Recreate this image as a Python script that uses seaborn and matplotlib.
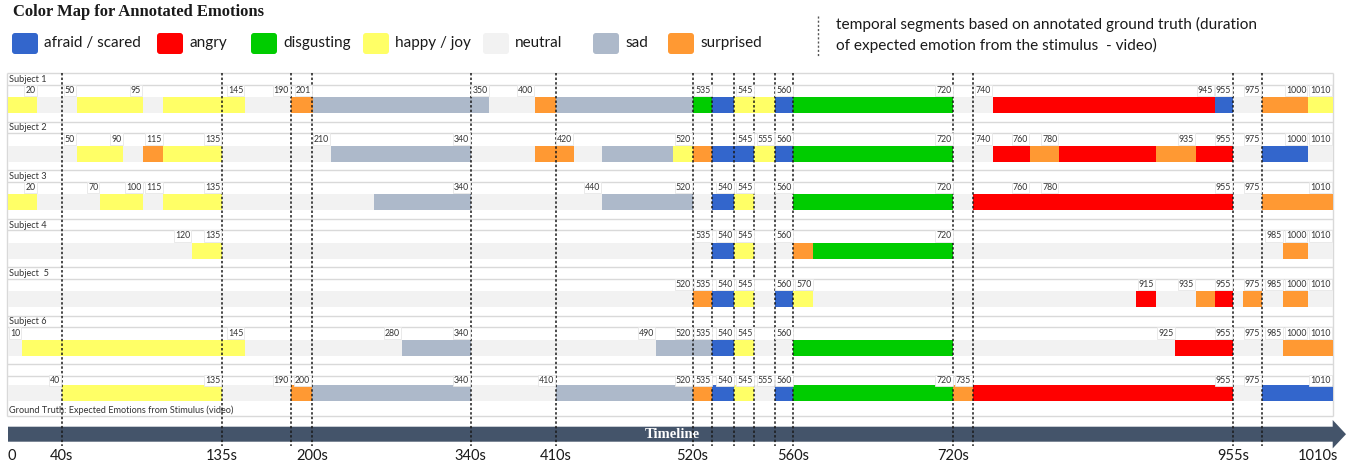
import matplotlib
matplotlib.use("Agg")
import matplotlib.pyplot as plt
from matplotlib.patches import FancyBboxPatch, Polygon
import numpy as np
import pandas as pd
import seaborn as sns

# %% data -------------------------------------------------------------

EMOTIONS = ["afraid", "angry", "disgust", "happy", "neutral", "sad", "surprised"]
EMOTION_LABELS = ["afraid / scared", "angry", "disgusting", "happy / joy", "neutral", "sad", "surprised"]
EMOTION_COLORS = ["#3366CC", "#FF0000", "#00CC00", "#FFFF66", "#F2F2F2", "#ADB9CA", "#FF9933"]

ROW_NAMES = ["Subject 1", "Subject 2", "Subject 3", "Subject 4", "Subject  5", "Subject 6",
             "Ground Truth: Expected Emotions from Stimulus (video)"]

# segment edges (s) and the emotion held between consecutive edges
S1_EDGES = [0, 20, 50, 95, 115, 145, 190, 201, 350, 400, 410, 520, 535, 540, 555, 560, 720, 740, 945, 955, 975, 1000, 1010]
S1_EMO = ["happy", "neutral", "happy", "neutral", "happy", "neutral", "surprised", "sad", "neutral", "surprised", "sad",
          "disgust", "afraid", "happy", "afraid", "disgust", "neutral", "angry", "afraid", "neutral", "surprised", "happy"]
S1_MARKS = [20, 50, 95, 145, 190, 201, 350, 400, 535, 545, 560, 720, 740, 945, 955, 975, 1000, 1010]

S2_EDGES = [0, 50, 90, 100, 115, 135, 210, 340, 400, 420, 440, 510, 520, 535, 545, 555, 560, 720, 740, 760, 780, 915, 935, 955, 975, 1000, 1010]
S2_EMO = ["neutral", "happy", "neutral", "surprised", "happy", "neutral", "sad", "neutral", "surprised", "neutral", "sad",
          "happy", "surprised", "afraid", "happy", "afraid", "disgust", "neutral", "angry", "surprised", "angry", "surprised",
          "angry", "neutral", "afraid", "neutral"]
S2_MARKS = [50, 90, 115, 135, 210, 340, 420, 520, 545, 555, 560, 720, 740, 760, 780, 935, 955, 975, 1000, 1010]

S3_EDGES = [0, 20, 70, 100, 115, 135, 250, 340, 440, 520, 535, 540, 545, 560, 720, 735, 955, 975, 1010]
S3_EMO = ["happy", "neutral", "happy", "neutral", "happy", "neutral", "sad", "neutral", "sad", "neutral", "afraid",
          "happy", "neutral", "disgust", "neutral", "angry", "neutral", "surprised"]
S3_MARKS = [20, 70, 100, 115, 135, 340, 440, 520, 540, 545, 560, 720, 760, 780, 955, 975, 1010]

S4_EDGES = [0, 120, 135, 535, 540, 545, 560, 570, 720, 985, 1000, 1010]
S4_EMO = ["neutral", "happy", "neutral", "afraid", "happy", "neutral", "surprised", "disgust", "neutral", "surprised", "neutral"]
S4_MARKS = [120, 135, 535, 540, 545, 560, 720, 985, 1000, 1010]

S5_EDGES = [0, 520, 535, 540, 545, 555, 560, 570, 905, 915, 935, 945, 955, 960, 975, 985, 1000, 1010]
S5_EMO = ["neutral", "surprised", "afraid", "happy", "neutral", "afraid", "happy", "neutral", "angry", "neutral",
          "surprised", "angry", "neutral", "surprised", "neutral", "surprised", "neutral"]
S5_MARKS = [520, 535, 540, 545, 560, 570, 915, 935, 955, 975, 985, 1000, 1010]

S6_EDGES = [0, 10, 145, 280, 340, 490, 535, 540, 545, 560, 720, 925, 955, 985, 1010]
S6_EMO = ["neutral", "happy", "neutral", "sad", "neutral", "sad", "afraid", "happy", "neutral", "disgust", "neutral",
          "angry", "neutral", "surprised"]
S6_MARKS = [10, 145, 280, 340, 490, 520, 535, 540, 545, 560, 925, 955, 975, 985, 1000, 1010]

GT_EDGES = [0, 40, 135, 190, 200, 340, 410, 520, 535, 540, 545, 555, 560, 720, 735, 955, 975, 1010]
GT_EMO = ["neutral", "happy", "neutral", "surprised", "sad", "neutral", "sad", "surprised", "afraid", "happy", "neutral",
          "afraid", "disgust", "surprised", "angry", "neutral", "afraid"]
GT_MARKS = [40, 135, 190, 200, 340, 410, 520, 535, 540, 545, 555, 560, 720, 735, 955, 975, 1010]

SEGMENT_TIMES = [40, 135, 190, 200, 340, 410, 520, 535, 540, 545, 555, 560, 720, 735, 955, 975]
TICK_TIMES = [0, 40, 135, 200, 340, 410, 520, 560, 720, 955, 1010]

# spreadsheet-like time axis: column edge times and their pixel position
COL_T = [0, 10, 20, 40, 50, 70, 90, 95, 100, 115, 120, 135, 145, 190, 200, 201, 210, 250, 280, 340, 350, 400, 410,
         420, 440, 490, 510, 520, 535, 540, 545, 555, 560, 570, 720, 735, 740, 760, 780, 905, 915, 925, 935, 945,
         955, 960, 975, 985, 1000, 1010]
COL_PX = [8, 21.7, 37.3, 61.7, 76.7, 100, 123.3, 142.8, 143.3, 163.3, 192, 222, 245, 290.7, 312, 312.6, 331, 374,
          401.7, 470.5, 489.3, 535, 556, 574, 602, 656, 673, 692.5, 712.3, 734.3, 754.3, 775, 793.3, 813.3, 953.3,
          972.7, 992.7, 1030, 1059, 1136, 1155.7, 1175.3, 1195.7, 1215, 1233, 1243.3, 1261.7, 1283.3, 1308, 1332.7]

# %% build the segment table

rows = [(S1_EDGES, S1_EMO), (S2_EDGES, S2_EMO), (S3_EDGES, S3_EMO), (S4_EDGES, S4_EMO),
        (S5_EDGES, S5_EMO), (S6_EDGES, S6_EMO), (GT_EDGES, GT_EMO)]
marks = [S1_MARKS, S2_MARKS, S3_MARKS, S4_MARKS, S5_MARKS, S6_MARKS, GT_MARKS]

records = []
for i, (edges, emos) in enumerate(rows):
    for a, b, e in zip(edges[:-1], edges[1:], emos):
        records.append({"row": i, "start": a, "end": b, "emotion": e})
seg = pd.DataFrame(records)
palette = dict(zip(EMOTIONS, EMOTION_COLORS))

# %% figure

sns.set_theme(style="white")
plt.rcParams["font.family"] = ["Lato", "DejaVu Sans"]

W, H = 1354, 466
fig = plt.figure(figsize=(W / 100, H / 100), dpi=100)

# layout axes in pixel units
lay = fig.add_axes([0, 0, 1, 1])
lay.set_xlim(0, W)
lay.set_ylim(H, 0)
lay.axis("off")

# data axes: time on a piecewise column scale
x0, x1 = COL_PX[0], COL_PX[-1]
ax = fig.add_axes([x0 / W, 0, (x1 - x0) / W, 1])
ax.set_xscale("function", functions=(lambda t: np.interp(t, COL_T, COL_PX),
                                     lambda p: np.interp(p, COL_PX, COL_T)))
ax.set_xlim(0, 1010)
ax.set_ylim(H, 0)
ax.axis("off")

GRID = "#D9D9D9"
TOP, PITCH = 73, 48.5

for i in range(len(ROW_NAMES)):
    y0 = TOP + i * PITCH
    is_gt = i == len(ROW_NAMES) - 1
    lay.hlines([y0, y0 + 11.5], 7, x1, color=GRID, lw=1, zorder=1)
    if is_gt:
        bar_c, lab_y, name_y = y0 + 29, y0 + 16.5, y0 + 46.5
        lay.hlines(y0 + 52, 7, x1, color=GRID, lw=1, zorder=1)
    else:
        bar_c, lab_y, name_y = y0 + 32, y0 + 17.5, y0 + 6.5
    lay.text(9, name_y, ROW_NAMES[i], fontsize=6.6, va="center", ha="left", color="#333333", zorder=6)

    sub = seg[seg["row"] == i]
    ax.barh(np.full(len(sub), bar_c), sub["end"] - sub["start"], left=sub["start"], height=16,
            color=[palette[e] for e in sub["emotion"]], linewidth=0, zorder=2)

    for t in marks[i]:
        ax.annotate(str(t), xy=(t, lab_y), xytext=(-1.2, 0), textcoords="offset points",
                    ha="right", va="center", fontsize=6.3, color="#333333", zorder=5,
                    bbox=dict(boxstyle="square,pad=0.12", fc="white", ec="#E6E6E6", lw=0.6))

lay.vlines([7, x1], TOP, TOP + 6 * PITCH + 52, color=GRID, lw=1, zorder=1)

# temporal segment markers
ax.vlines(SEGMENT_TIMES, TOP, 446, colors="#1a1a1a", linestyles=(0, (1.6, 1.4)), lw=1.1, zorder=4)

# timeline arrow
arrow = Polygon([(x0, 426.7), (x1, 426.7), (x1, 420), (1346, 434.2), (x1, 448.4), (x1, 441.7), (x0, 441.7)],
                closed=True, fc="#44546A", ec="none", zorder=3)
lay.add_patch(arrow)
lay.text(672, 434.5, "Timeline", family="Liberation Serif", weight="bold", fontsize=10.5,
         color="white", ha="center", va="center", zorder=6)

for t in TICK_TIMES:
    ha = "left" if t == TICK_TIMES[0] else ("right" if t == TICK_TIMES[-1] else "center")
    lbl = "0" if t == 0 else f"{t}s"
    ax.annotate(lbl, xy=(t, 456), xytext=(4 if ha == "right" else 0, 0), textcoords="offset points",
                ha=ha, va="center", fontsize=10.5, color="#1a1a1a", annotation_clip=False)

# title and colour legend
lay.text(13, 12, "Color Map for Annotated Emotions", family="Liberation Serif", weight="bold",
         fontsize=12, va="center", ha="left", color="#1a1a1a")

LEGEND_X = [12, 157, 251, 363, 483, 593, 668]
for lx, lab, col in zip(LEGEND_X, EMOTION_LABELS, EMOTION_COLORS):
    lay.add_patch(FancyBboxPatch((lx + 2, 35), 22, 17, boxstyle="round,pad=2,rounding_size=3",
                                 fc=col, ec="none"))
    lay.text(lx + 32, 43, lab, fontsize=11, va="center", ha="left", color="#1a1a1a")

lay.vlines(818, 16, 57, colors="#555555", linestyles=(0, (1.5, 1.5)), lw=1)
lay.text(836, 24, "temporal segments based on annotated ground truth (duration", fontsize=11.1,
         va="center", ha="left", color="#1a1a1a")
lay.text(836, 45, "of expected emotion from the stimulus  - video)", fontsize=11.1,
         va="center", ha="left", color="#1a1a1a")

fig.savefig("out.png", dpi=100, facecolor="white")
